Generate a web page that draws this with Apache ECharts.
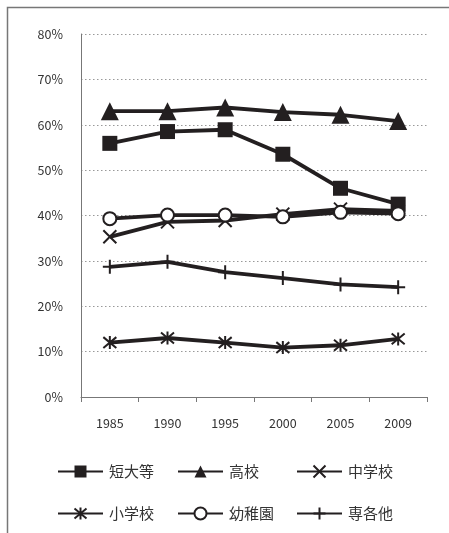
<!DOCTYPE html>
<html><head><meta charset="utf-8">
<script src="https://cdn.jsdelivr.net/npm/echarts@6/dist/echarts.min.js"></script>
<style>html,body{margin:0;padding:0;background:#fff}#c{width:449px;height:533px}</style>
</head><body><div id="c"></div>
<script>
const years = ['1985','1990','1995','2000','2005','2009'];
const tandai = [55.9, 58.5, 58.9, 53.5, 46.0, 42.5];
const koko = [63.0, 63.0, 63.8, 62.8, 62.2, 60.8];
const chugaku = [35.3, 38.6, 38.9, 40.3, 41.4, 41.0];
const shogaku = [12.0, 13.0, 12.0, 10.9, 11.4, 12.8];
const yochien = [39.3, 40.1, 40.1, 39.7, 40.7, 40.4];
const senkaku = [28.7, 29.8, 27.5, 26.2, 24.8, 24.2];
const names = ['短大等','高校','中学校','小学校','幼稚園','専各他'];

const C = '#231f20';
const FONT = '"Noto Sans CJK JP", "Noto Sans", sans-serif';
const sym = {
  square: 'rect',
  tri: 'triangle',
  x: 'path://M0,0L10,10M10,0L0,10',
  ast: 'path://M0,0L10,10M10,0L0,10M5,-1L5,11',
  circ: 'emptyCircle',
  plus: 'path://M5,0L5,10M0,5L10,5'
};
function s(name, data, symbol, size, bw) {
  return {
    name, type: 'line', data, symbol, symbolSize: size,
    lineStyle: {color: C, width: 3.8},
    itemStyle: {color: C, borderColor: C, borderWidth: bw || 0},
    showAllSymbol: true, z: 3
  };
}
const series = [
  s(names[0], tandai, sym.square, 15),
  s(names[1], koko, sym.tri, 18),
  s(names[2], chugaku, sym.x, 13, 2),
  s(names[3], shogaku, sym.ast, 13, 2),
  s(names[4], yochien, sym.circ, 13, 2),
  s(names[5], senkaku, sym.plus, 14, 2)
];
const colX = [57, 177, 296];
const rowY = [464, 506];
const legends = names.map((n, i) => ({
  data: [n], left: colX[i % 3], top: rowY[Math.floor(i / 3)],
  itemWidth: 45, itemHeight: 15, itemGap: 0, padding: 0,
  textStyle: {fontFamily: FONT, fontSize: 15, color: '#333', padding: [0,0,0,1]}
}));
const chart = echarts.init(document.getElementById('c'), null, {renderer: 'canvas'});
chart.setOption({
  animation: false,
  backgroundColor: '#fff',
  grid: {left: 81, right: 22, top: 34, bottom: 136, containLabel: false},
  xAxis: {
    type: 'category', data: years, boundaryGap: true,
    axisLine: {lineStyle: {color: '#777', width: 1}},
    axisTick: {show: true, length: 5, lineStyle: {color: '#777'}},
    axisLabel: {fontFamily: FONT, fontSize: 12.5, color: '#333', margin: 20}
  },
  yAxis: {
    type: 'value', min: 0, max: 80, interval: 10,
    axisLine: {show: true, lineStyle: {color: '#777'}},
    axisTick: {show: false},
    axisLabel: {fontFamily: FONT, fontSize: 12.5, color: '#333', margin: 18, formatter: v => v + '%'},
    splitLine: {lineStyle: {color: '#999', type: [1.5, 2.5], width: 1}}
  },
  legend: legends,
  graphic: [{type: 'rect', shape: {x: 7.5, y: 7.5, width: 460, height: 540}, style: {fill: 'none', stroke: '#777', lineWidth: 1.5}, z: 0}],
  series
});
</script></body></html>
